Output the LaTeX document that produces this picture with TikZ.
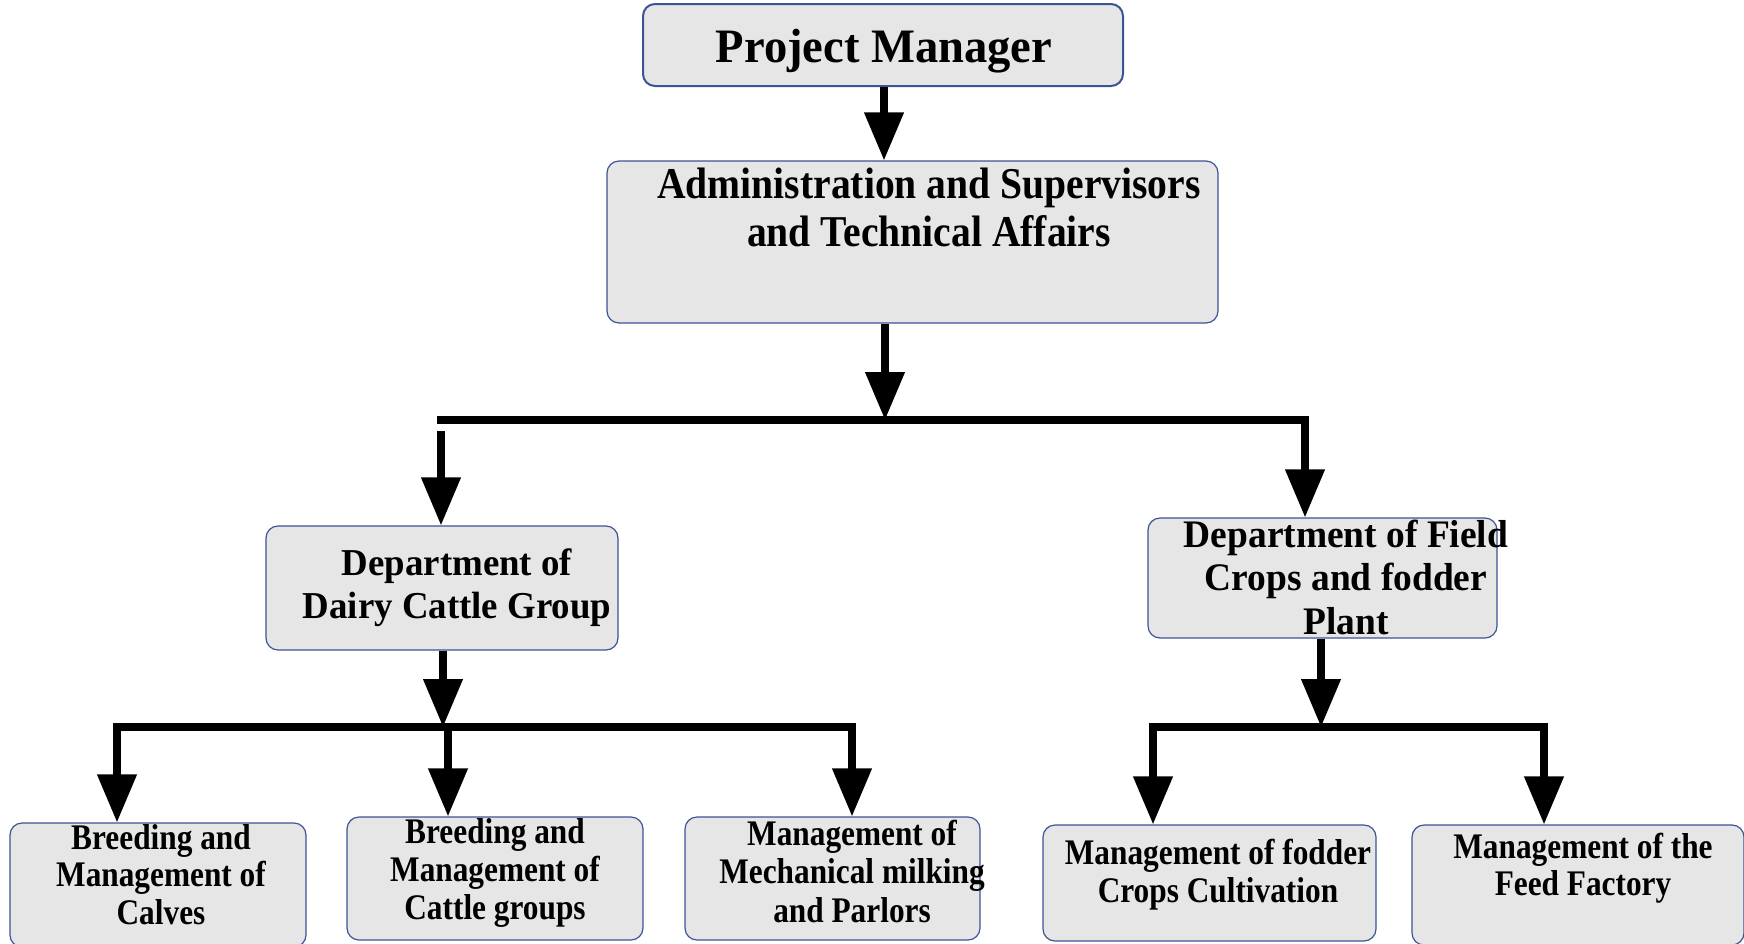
\documentclass[tikz,border=0pt]{standalone}
\usepackage{fontspec}
\setmainfont{Liberation Serif}
\newfontfamily\fPM[FakeStretch=0.97]{Liberation Serif}
\newfontfamily\fAD[FakeStretch=0.9]{Liberation Serif}
\newfontfamily\fDP[FakeStretch=0.97]{Liberation Serif}
\newfontfamily\fFD[FakeStretch=0.96]{Liberation Serif}
\newfontfamily\fLO[FakeStretch=0.87]{Liberation Serif}
\usetikzlibrary{arrows.meta}
\definecolor{boxfill}{RGB}{230,230,230}
\definecolor{boxline}{RGB}{60,84,150}
\tikzset{
  orgbox/.style={draw=boxline, fill=boxfill, rounded corners=12pt, line width=1.2pt, inner sep=0pt},
  lbl/.style={align=center, inner sep=0pt, anchor=base, text=black},
  arr/.style={line width=7.5pt, -{Triangle[length=48pt,width=38pt]}},
  barline/.style={line width=7.5pt, line cap=rect}
}
\begin{document}
\begin{tikzpicture}[x=1pt,y=-1pt]
\useasboundingbox (0,0) rectangle (1744,943);
% boxes
\node[orgbox, line width=2pt, minimum width=480pt, minimum height=82pt] (pm) at (883,45) {};
\node[orgbox, minimum width=611pt, minimum height=162pt] (adm) at (912.5,242) {};
\node[orgbox, minimum width=352pt, minimum height=124pt] (dairy) at (442,588) {};
\node[orgbox, minimum width=349pt, minimum height=120pt] (field) at (1322.5,578) {};
\node[orgbox, minimum width=296pt, minimum height=124pt] (calves) at (158,885) {};
\node[orgbox, minimum width=296pt, minimum height=123pt] (cattle) at (495,878.5) {};
\node[orgbox, minimum width=295pt, minimum height=123pt] (milk) at (832.5,878.5) {};
\node[orgbox, minimum width=333pt, minimum height=116pt] (fodder) at (1209.5,883) {};
\node[orgbox, minimum width=332pt, minimum height=120pt] (feed) at (1578,885) {};
% texts (anchored at the baseline of the last line)
\node[lbl, font={\fPM\bfseries\fontsize{48}{50}\selectfont}] (tpm) at (884,62) {Project Manager};
\node[lbl, font={\fAD\bfseries\fontsize{44}{48}\selectfont}] (tadm) at (929,246) {Administration and Supervisors\\and Technical Affairs};
\node[lbl, font={\fDP\bfseries\fontsize{38}{43}\selectfont}] (tdairy) at (457,618) {Department of\\Dairy Cattle Group};
\node[lbl, font={\fFD\bfseries\fontsize{39}{43.5}\selectfont}] (tfield) at (1346,634) {Department of Field\\Crops and fodder\\Plant};
\node[lbl, font={\fLO\bfseries\fontsize{36}{37.5}\selectfont}] (tcalves) at (161,924) {Breeding and\\Management of\\Calves};
\node[lbl, font={\fLO\bfseries\fontsize{36}{38}\selectfont}] (tcattle) at (495,919) {Breeding and\\Management of\\Cattle groups};
\node[lbl, font={\fLO\bfseries\fontsize{36}{38.5}\selectfont}] (tmilk) at (852,922) {Management of\\Mechanical milking\\and Parlors};
\node[lbl, font={\fLO\bfseries\fontsize{36}{38}\selectfont}] (tfodder) at (1218,902) {Management of fodder\\Crops Cultivation};
\node[lbl, font={\fLO\bfseries\fontsize{36}{37}\selectfont}] (tfeed) at (1583,895) {Management of the\\Feed Factory};
% junction coordinates
\coordinate (j1) at (885,420);
\coordinate (j1l) at (441,420);
\coordinate (j1r) at (1305,420);
\coordinate (j2) at (443,727);
\coordinate (j2a) at (117,727);
\coordinate (j2b) at (448,727);
\coordinate (j2c) at (852,727);
\coordinate (j3) at (1321,727);
\coordinate (j3a) at (1153,727);
\coordinate (j3b) at (1544,727);
% connectors
\draw[arr] (pm.south -| 884,0) -- (adm.north -| 884,0);
\draw[arr] (adm.south -| j1) -- (j1);
\draw[barline] (j1l) -- (j1r);
\draw[arr, shorten <=11pt] (j1l) -- (dairy.north -| j1l);
\draw[arr] (j1r) -- (field.north -| j1r);
\draw[arr] (dairy.south -| j2) -- (j2);
\draw[barline] (j2a) -- (j2c);
\draw[arr] (j2a) -- (calves.north -| j2a);
\draw[arr] (j2b) -- (cattle.north -| j2b);
\draw[arr] (j2c) -- (milk.north -| j2c);
\draw[arr] (field.south -| j3) -- (j3);
\draw[barline] (j3a) -- (j3b);
\draw[arr] (j3a) -- (fodder.north -| j3a);
\draw[arr] (j3b) -- (feed.north -| j3b);
\end{tikzpicture}
\end{document}
